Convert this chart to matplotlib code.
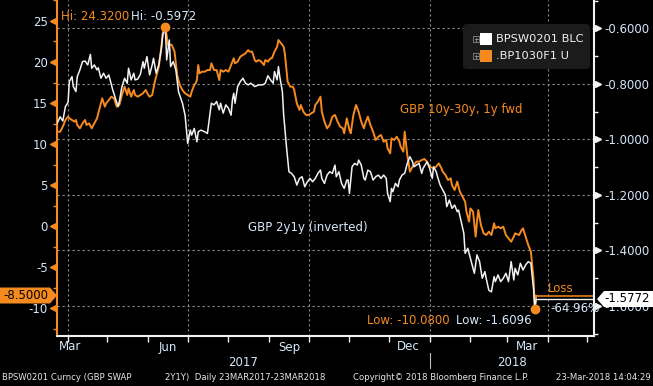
import numpy as np
import matplotlib
matplotlib.use("Agg")
import matplotlib.pyplot as plt
from matplotlib.transforms import Affine2D, blended_transform_factory
from matplotlib.patches import FancyBboxPatch, Rectangle, Polygon

plt.rcParams["font.family"] = "DejaVu Sans"
plt.rcParams["axes.unicode_minus"] = False

START = np.datetime64("2017-03-23")

# GBP 2y1y swap, inverted (right axis); x = days after 23 Mar 2017
w_days = [0, 3, 5, 7, 9, 10, 12, 13, 15, 16, 18, 20, 22, 24, 26, 27, 29, 31, 32, 34,
          36, 38, 40, 41, 43, 45, 47, 48, 50, 52, 54, 55, 57, 59, 60, 62, 64, 66, 67, 69,
          71, 73, 74, 76, 78, 80, 81, 83, 84, 86, 87, 89, 91, 93, 96, 98, 100, 102, 103, 105,
          107, 108, 110, 113, 115, 116, 118, 120, 122, 124, 125, 127, 129, 131, 133, 134, 135, 136, 138, 140,
          142, 144, 146, 148, 151, 154, 157, 159, 161, 163, 165, 166, 168, 169, 170, 172, 173, 175, 177, 179,
          181, 183, 185, 187, 189, 191, 193, 195, 197, 199, 201, 202, 204, 206, 208, 210, 212, 213, 215, 217,
          219, 221, 222, 223, 225, 227, 229, 230, 232, 234, 235, 237, 239, 241, 243, 245, 247, 249, 251, 252,
          254, 255, 256, 258, 260, 261, 263, 265, 267, 269, 271, 272, 274, 276, 278, 279, 282, 284, 286, 287,
          289, 290, 292, 294, 296, 297, 299, 301, 303, 305, 306, 308, 310, 311, 313, 315, 317, 318, 320, 322,
          324, 326, 327, 329, 331, 333, 334, 336, 338, 340, 342, 344, 346, 348, 349, 351, 353, 355, 357, 359,
          361, 363, 364, 365]
w_vals = [-0.949, -0.919, -0.934, -0.882, -0.867, -0.792, -0.774, -0.810, -0.828, -0.774,
          -0.750, -0.720, -0.718, -0.732, -0.694, -0.744, -0.732, -0.750, -0.742, -0.780,
          -0.762, -0.780, -0.768, -0.786, -0.822, -0.852, -0.882, -0.864, -0.810, -0.780,
          -0.798, -0.744, -0.786, -0.762, -0.786, -0.783, -0.766, -0.720, -0.744, -0.702,
          -0.768, -0.732, -0.708, -0.762, -0.732, -0.672, -0.624, -0.5972, -0.714, -0.642,
          -0.738, -0.720, -0.750, -0.828, -0.870, -0.913, -1.015, -0.967, -0.985, -0.961,
          -1.009, -0.973, -0.967, -0.973, -0.979, -0.943, -0.870, -0.876, -0.864, -0.894,
          -0.870, -0.906, -0.876, -0.888, -0.913, -0.858, -0.834, -0.870, -0.810, -0.792,
          -0.780, -0.798, -0.804, -0.798, -0.810, -0.804, -0.804, -0.798, -0.771, -0.786,
          -0.798, -0.756, -0.786, -0.738, -0.774, -0.828, -0.913, -1.021, -1.117, -1.123,
          -1.135, -1.165, -1.141, -1.135, -1.171, -1.153, -1.141, -1.153, -1.141, -1.123,
          -1.111, -1.141, -1.159, -1.129, -1.117, -1.123, -1.093, -1.135, -1.117, -1.159,
          -1.177, -1.147, -1.147, -1.195, -1.099, -1.087, -1.093, -1.075, -1.093, -1.141,
          -1.147, -1.111, -1.117, -1.147, -1.135, -1.129, -1.141, -1.129, -1.141, -1.195,
          -1.225, -1.177, -1.189, -1.159, -1.171, -1.147, -1.129, -1.123, -1.087, -1.063,
          -1.081, -1.099, -1.093, -1.087, -1.123, -1.105, -1.081, -1.105, -1.141, -1.099,
          -1.117, -1.135, -1.165, -1.183, -1.201, -1.243, -1.219, -1.249, -1.237, -1.261,
          -1.255, -1.297, -1.339, -1.411, -1.393, -1.429, -1.465, -1.483, -1.417, -1.441,
          -1.501, -1.477, -1.501, -1.544, -1.550, -1.495, -1.513, -1.489, -1.513, -1.501,
          -1.483, -1.513, -1.441, -1.507, -1.465, -1.489, -1.447, -1.471, -1.453, -1.441,
          -1.447, -1.538, -1.6096, -1.5772]

# GBP 10y-30y, 1y fwd spread in bp (left axis)
o_days = [0, 3, 5, 7, 9, 10, 12, 14, 15, 16, 18, 20, 22, 23, 25, 27, 29, 31, 33, 35,
          37, 38, 40, 42, 44, 46, 48, 50, 52, 54, 55, 57, 59, 60, 62, 64, 66, 68, 70, 71,
          73, 75, 76, 78, 80, 81, 83, 85, 86, 88, 90, 92, 94, 96, 98, 100, 102, 103, 105, 106,
          107, 108, 109, 111, 113, 115, 117, 118, 120, 122, 124, 125, 127, 129, 131, 133, 135, 136, 138, 140,
          142, 144, 146, 147, 149, 151, 152, 154, 156, 158, 159, 161, 163, 164, 166, 168, 169, 171, 173, 174,
          176, 178, 180, 181, 183, 185, 186, 188, 190, 192, 194, 196, 197, 199, 201, 202, 204, 206, 208, 210,
          212, 214, 216, 218, 219, 221, 223, 224, 226, 228, 230, 232, 234, 235, 237, 239, 241, 243, 245, 247,
          249, 251, 252, 254, 255, 257, 259, 261, 262, 264, 265, 267, 268, 269, 271, 272, 274, 276, 278, 280,
          282, 284, 287, 289, 291, 293, 294, 296, 298, 300, 301, 303, 305, 307, 309, 311, 312, 314, 315, 317,
          319, 320, 321, 323, 325, 327, 329, 331, 333, 334, 336, 338, 340, 342, 344, 346, 348, 349, 352, 354,
          355, 357, 359, 361, 363, 364, 365]
o_vals = [11.50, 11.50, 12.11, 12.93, 13.33, 13.13, 12.93, 12.72, 12.93, 12.32,
          11.91, 12.52, 12.93, 12.32, 12.52, 11.91, 12.52, 13.13, 14.35, 15.57,
          14.55, 14.96, 15.37, 15.77, 15.57, 14.55, 14.76, 15.98, 16.99, 15.98,
          16.79, 15.77, 16.59, 15.98, 15.77, 15.98, 16.18, 16.59, 15.98, 15.77,
          15.98, 17.60, 18.21, 19.43, 21.87, 23.50, 24.32, 22.07, 22.15, 22.07,
          21.26, 18.41, 17.20, 16.59, 16.18, 15.98, 15.77, 16.38, 17.20, 17.40,
          17.80, 19.63, 18.62, 18.82, 18.82, 19.02, 19.02, 19.84, 19.02, 19.02,
          17.80, 19.02, 18.82, 19.02, 18.82, 19.63, 20.45, 19.84, 20.04, 20.65,
          20.85, 21.06, 21.46, 21.26, 21.26, 20.24, 20.04, 20.24, 20.04, 19.63,
          20.24, 20.04, 20.45, 20.45, 21.26, 21.87, 22.68, 22.28, 21.87, 20.85,
          17.60, 16.99, 16.99, 16.59, 14.96, 14.15, 14.76, 13.94, 13.54, 13.54,
          13.74, 13.94, 14.76, 15.16, 15.77, 13.94, 12.72, 11.91, 12.32, 13.33,
          13.54, 12.72, 12.11, 11.91, 11.30, 13.13, 11.71, 11.30, 13.54, 14.76,
          13.94, 12.72, 11.91, 12.52, 13.33, 12.32, 11.50, 10.49, 10.89, 11.10,
          10.28, 10.49, 9.47, 8.86, 10.69, 10.49, 10.89, 10.28, 9.67, 9.07,
          11.50, 8.66, 7.64, 6.63, 7.24, 7.44, 7.85, 7.85, 8.05, 8.17,
          7.85, 7.24, 7.03, 7.24, 7.64, 7.03, 6.63, 6.22, 5.61, 5.81,
          5.00, 4.39, 5.41, 4.19, 3.58, 2.97, 1.75, 0.53, 2.15, 1.75,
          -1.30, 0.53, 1.95, 0.12, -0.89, -1.10, -0.69, -1.10, 0.33, -0.28,
          -0.08, -0.28, -0.08, -1.10, -1.50, -1.91, -1.30, -0.89, -1.10, -0.49,
          -0.28, -1.30, -2.32, -3.13, -6.38, -10.08, -8.50]

left_ticks = [-10, -5, 0, 5, 10, 15, 20, 25]
right_ticks = [-1.6, -1.4, -1.2, -1.0, -0.8, -0.6]
month_names = ["Mar", "Jun", "Sep", "Dec", "Mar"]
month_label_dates = ["2017-03-25", "2017-06-16", "2017-09-16", "2017-12-16", "2018-03-16"]
quarter_dates = ["2017-04-01", "2017-07-01", "2017-10-01", "2018-01-01", "2018-04-01"]

ORANGE = "#f58a1f"
WHITE = "#f2f2f2"
LBLUE = "#d3e8fb"
GRID = "#8c8c8c"
W, H = 653, 386


def day(s):
    return int((np.datetime64(s) - START).astype(int))


fig = plt.figure(figsize=(W / 100, H / 100), dpi=100, facecolor="black")
px = Affine2D().scale(1 / W, -1 / H).translate(0, 1) + fig.transFigure

ax = fig.add_axes([57 / W, 50 / H, 537 / W, 336 / H])
ax.set_facecolor("black")
ax2 = ax.twinx()

XMAX = 409
ax.set_xlim(0.6, XMAX)
ax.set_ylim(-13.41, 27.56)
ax2.set_ylim(-1.709, -0.498)

# grid: horizontal from right axis, vertical at quarter starts
gtr = blended_transform_factory(ax.transAxes, ax2.transData)
for v in right_ticks:
    ax.plot([0, 1], [v, v], transform=gtr, color=GRID, lw=0.8, ls=(0, (2, 2.5)), zorder=1)
for q in quarter_dates:
    ax.axvline(day(q), color=GRID, lw=0.8, ls=(0, (2, 2.5)), zorder=1)

ax.plot(o_days, o_vals, color=ORANGE, lw=1.4, zorder=3)
ax2.plot(w_days, w_vals, color=WHITE, lw=1.1, zorder=3)

# last value lines
ax.plot([o_days[-1] + 1, XMAX], [o_vals[-1]] * 2, color=ORANGE, lw=1.1, zorder=3)
ax2.plot([w_days[-1] + 1, XMAX], [w_vals[-1]] * 2, color=WHITE, lw=1.0, zorder=3)

# hi / low markers (orange series)
hi_i = int(np.argmax(o_vals)); lo_i = int(np.argmin(o_vals))
ax2.plot([o_days[hi_i], o_days[lo_i]], [o_vals[hi_i], o_vals[lo_i]], "o", color=ORANGE,
         ms=6, transform=ax.transData, zorder=5, clip_on=False)

# spines
ax.spines["top"].set_visible(False); ax2.spines["top"].set_visible(False)
ax.spines["right"].set_visible(False)
ax2.spines["left"].set_visible(False)
ax2.spines["bottom"].set_visible(False)
ax.spines["left"].set_color(ORANGE); ax.spines["left"].set_linewidth(1.5)
ax.spines["bottom"].set_color(WHITE); ax.spines["bottom"].set_linewidth(1.5)
ax2.spines["right"].set_color(WHITE); ax2.spines["right"].set_linewidth(1.5)

# left axis ticks
ax.set_yticks(left_ticks)
ax.set_yticklabels([str(t) for t in left_ticks])
ax.set_yticks(np.arange(-12.5, 27.6, 2.5), minor=True)
ax.tick_params(axis="y", which="major", length=0, pad=6.5, labelcolor=LBLUE, labelsize=8.5)
ax.tick_params(axis="y", which="minor", length=3, width=1, color=ORANGE)
lt = blended_transform_factory(ax.transAxes, ax.transData)
ax.plot([-4 / 537] * len(left_ticks), left_ticks, ls="none", marker="<", ms=5,
        color=ORANGE, transform=lt, clip_on=False, zorder=6)

# right axis ticks
ax2.set_yticks(right_ticks)
ax2.set_yticklabels([f"{t:.4f}" for t in right_ticks])
ax2.set_yticks(np.arange(-1.7, -0.45, 0.1), minor=True)
ax2.tick_params(axis="y", which="major", length=0, pad=7.5, labelcolor=LBLUE, labelsize=8.5)
ax2.tick_params(axis="y", which="minor", length=3, width=1, color=WHITE)
rt = blended_transform_factory(ax2.transAxes, ax2.transData)
ax2.plot([1 + 4 / 537] * len(right_ticks), right_ticks, ls="none", marker=">", ms=5,
         color=WHITE, transform=rt, clip_on=False, zorder=6)

# x axis: monthly ticks, labels placed mid-month
months = np.arange(np.datetime64("2017-04"), np.datetime64("2018-06"), np.timedelta64(1, "M"))
mdays = [int((m.astype("datetime64[D]") - START).astype(int)) for m in months]
ax.set_xticks([d for d in mdays if d <= XMAX])
ax.set_xticklabels([])
ax.tick_params(axis="x", length=4, width=1, color=WHITE)
xt = blended_transform_factory(ax.transData, ax.transAxes)
for name, d in zip(month_names, month_label_dates):
    ax.text(day(d), -11 / 336, name, transform=xt, ha="left" if d == month_label_dates[0] else "center",
            va="center", color=LBLUE, fontsize=8.5)
jan = day("2018-01-01")
ax.text((0.6 + jan) / 2, -26 / 336, "2017", transform=xt, ha="center", va="center", color=LBLUE, fontsize=8.5)
ax.text((jan + XMAX) / 2, -26 / 336, "2018", transform=xt, ha="center", va="center", color=LBLUE, fontsize=8.5)
ax.plot([jan, jan], [-17 / 336, -32 / 336], transform=xt, color="#bbbbbb", lw=0.8, clip_on=False)

# annotations
fs = 8.5
fig.text(61, 17, "Hi: 24.3200", transform=px, color=ORANGE, fontsize=fs, va="center")
fig.text(131, 17, "Hi: -0.5972", transform=px, color=LBLUE, fontsize=fs, va="center")
fig.text(367, 320, "Low: -10.0800", transform=px, color=ORANGE, fontsize=fs, va="center")
fig.text(456, 320, "Low: -1.6096", transform=px, color=LBLUE, fontsize=fs, va="center")
fig.text(400, 110, "GBP 10y-30y, 1y fwd", transform=px, color=ORANGE, fontsize=fs, va="center")
fig.text(248, 228, "GBP 2y1y (inverted)", transform=px, color=LBLUE, fontsize=fs, va="center")
fig.text(548, 288, "Loss", transform=px, color=ORANGE, fontsize=fs, va="center")
fig.text(550, 309, "-64.96%", transform=px, color=LBLUE, fontsize=fs, va="center")

# last value tags
fig.add_artist(Polygon([(0, 287.5), (50, 287.5), (57, 295.5), (50, 303.5), (0, 303.5)],
                       closed=True, transform=px, facecolor=ORANGE, edgecolor="none", zorder=10))
fig.text(26, 295.5, "-8.5000", transform=px, color="black", fontsize=fs, ha="center", va="center", zorder=11)
fig.add_artist(Polygon([(597, 299), (604, 291), (653, 291), (653, 307), (604, 307)],
                       closed=True, transform=px, facecolor="white", edgecolor="none", zorder=10))
fig.text(627, 299, "-1.5772", transform=px, color="black", fontsize=fs, ha="center", va="center", zorder=11)

# legend
fig.add_artist(FancyBboxPatch((463, 24), 127, 45, boxstyle="round,pad=0,rounding_size=4",
                              transform=px, facecolor="#1b1b1b", edgecolor="none", zorder=8))
for yy, c, lab in [(39, "white", "BPSW0201 BLC"), (56, ORANGE, ".BP1030F1 U")]:
    fig.add_artist(Rectangle((473, yy - 3), 6, 6, transform=px, facecolor="none",
                             edgecolor="#7a7a7a", lw=0.7, zorder=9))
    fig.add_artist(plt.Line2D([474.5, 477.5], [yy, yy], transform=px, color="#9a9a9a", lw=0.6, zorder=9))
    fig.add_artist(plt.Line2D([476, 476], [yy - 1.5, yy + 1.5], transform=px, color="#9a9a9a", lw=0.6, zorder=9))
    fig.add_artist(Rectangle((480, yy - 6), 12, 12, transform=px, facecolor=c, edgecolor="none", zorder=9))
    fig.text(496, yy, lab, transform=px, color=WHITE, fontsize=8.2, va="center", zorder=9)

# footer
ff = 6.1
fig.text(2, 378, "BPSW0201 Curncy (GBP SWAP", transform=px, color="#e6e6e6", fontsize=ff, va="center")
fig.text(165, 378, "2Y1Y)  Daily 23MAR2017-23MAR2018", transform=px, color="#e6e6e6", fontsize=ff, va="center")
fig.text(353, 378, "Copyright\u00a9 2018 Bloomberg Finance L.P.", transform=px, color="#e6e6e6", fontsize=ff, va="center")
fig.text(651, 378, "23-Mar-2018 14:04:29", transform=px, color="#e6e6e6", fontsize=ff, va="center", ha="right")

fig.savefig("out.png", dpi=100, facecolor="black")
